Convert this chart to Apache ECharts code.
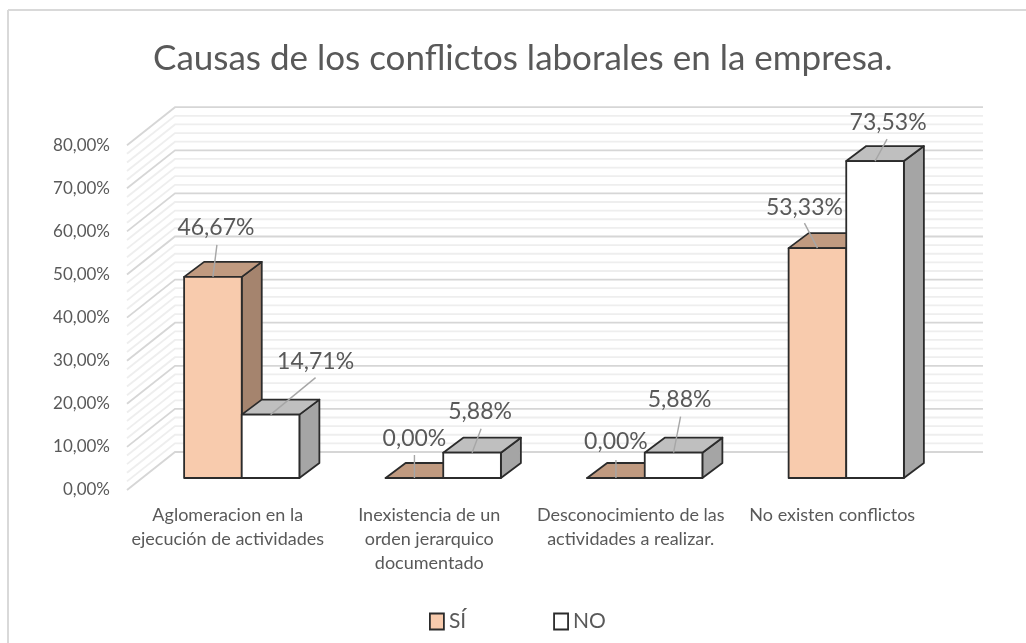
<!DOCTYPE html>
<html>
<head>
<meta charset="utf-8">
<style>html,body{margin:0;padding:0;background:#fff}#c{width:1026px;height:643px;filter:blur(0.5px)}</style>
<script src="https://cdn.jsdelivr.net/npm/echarts@6/dist/echarts.min.js"></script>
</head>
<body>
<div id="c"></div>
<script>
const categories = ['Aglomeracion en la\nejecución de actividades','Inexistencia de un\norden jerarquico\ndocumentado','Desconocimiento de las\nactividades a realizar.','No existen conflictos'];
const siValues = [46.67, 0, 0, 53.33];
const noValues = [14.71, 5.88, 5.88, 73.53];
const yTickValues = [0,2,4,6,8,10,12,14,16,18,20,22,24,26,28,30,32,34,36,38,40,42,44,46,48,50,52,54,56,58,60,62,64,66,68,70,72,74,76,78,80];

// 3D projection constants (pixels)
const FONT = 'Lato, "Open Sans", sans-serif';
const WALL_DX = 48, WALL_DY = -38, BAR_SHIFT_X = 14, BAR_SHIFT_Y = -12, BAR_DX = 20, BAR_DY = -15, BAR_FRAC = 0.286;
const EDGE = '#2b2b2b';
// label placement relative to the front-top centre of each bar: [labelDx, labelDy, leaderDx, leaderDy]
const siLabelNudge = [[3,-49,4,-32],[0,-39,0,-23],[0,-36,0,-18],[-13,-41,-13,-25]];
const noLabelNudge = [[45,-53,45,-37],[8,-41,9,-24],[6,-53,7,-36],[13,-39,12,-22]];

const fmt = v => v.toFixed(2).replace('.', ',') + '%';

function wallItem(params, api) {
  const v = api.value(1);
  const p = api.coord([0, v]);
  const cs = params.coordSys;
  const major = v % 10 === 0;
  return {
    type: 'polyline',
    shape: { points: [[cs.x, p[1]], [cs.x + WALL_DX, p[1] + WALL_DY], [cs.x + cs.width + WALL_DX + 2, p[1] + WALL_DY]] },
    style: { fill: null, stroke: major ? '#d6d6d6' : '#eeeeee', lineWidth: 1.8 },
    silent: true
  };
}

function barRenderer(sideIndex, front, top, side, nudges) {
  return function (params, api) {
    const c = api.value(0), v = api.value(1);
    const band = api.size([1, 0])[0];
    const w = band * BAR_FRAC;
    const t = api.coord([c, v]), b = api.coord([c, 0]);
    const cx = t[0] + BAR_SHIFT_X;
    const x0 = cx + (sideIndex === 0 ? -w : 0), x1 = x0 + w;
    const yt = t[1] + BAR_SHIFT_Y, yb = b[1] + BAR_SHIFT_Y;
    const n = nudges[params.dataIndex];
    const mx = (x0 + x1) / 2;
    const stroke = { stroke: EDGE, lineWidth: 1.8, lineJoin: 'round' };
    const children = [
      { type: 'polygon', shape: { points: [[x1, yt], [x1 + BAR_DX, yt + BAR_DY], [x1 + BAR_DX, yb + BAR_DY], [x1, yb]] }, style: Object.assign({ fill: side }, stroke) },
      { type: 'polygon', shape: { points: [[x0, yt], [x0 + BAR_DX, yt + BAR_DY], [x1 + BAR_DX, yt + BAR_DY], [x1, yt]] }, style: Object.assign({ fill: top }, stroke) },
      { type: 'rect', shape: { x: x0, y: yt, width: w, height: yb - yt }, style: Object.assign({ fill: front }, stroke) },
      { type: 'line', z2: 5, shape: { x1: mx, y1: yt, x2: mx + n[2], y2: yt + n[3] }, style: { stroke: '#a6a6a6', lineWidth: 1.4 } },
      { type: 'text', z2: 6, style: { x: mx + n[0], y: yt + n[1], text: fmt(v), fill: '#595959', font: '23px ' + FONT, align: 'center', verticalAlign: 'middle' } }
    ];
    return { type: 'group', children };
  };
}

const chart = echarts.init(document.getElementById('c'), null, { renderer: 'canvas' });
chart.setOption({
  animation: false,
  backgroundColor: '#ffffff',
  title: {
    text: 'Causas de los conflictos laborales en la empresa.',
    left: 148, top: 36,
    textStyle: { fontFamily: FONT, fontSize: 35, fontWeight: 'normal', color: '#595959' }
  },
  legend: {
    data: ['SÍ', 'NO'],
    left: 424, top: 606,
    itemWidth: 14, itemHeight: 16, itemGap: 87,
    icon: 'rect',
    textStyle: { fontFamily: FONT, fontSize: 21, color: '#595959' },
    itemStyle: { borderColor: EDGE, borderWidth: 1.8 }
  },
  grid: { left: 127, top: 145.2, width: 806, height: 344.8 },
  xAxis: {
    type: 'category',
    data: categories,
    axisLine: { show: false }, axisTick: { show: false }, splitLine: { show: false },
    axisLabel: { interval: 0, margin: 13, lineHeight: 24, fontFamily: FONT, fontSize: 18, color: '#595959', align: 'center', verticalAlign: 'top' }
  },
  yAxis: {
    type: 'value', min: 0, max: 80, interval: 10,
    axisLine: { show: false }, axisTick: { show: false }, splitLine: { show: false },
    axisLabel: { formatter: fmt, margin: 17, fontFamily: FONT, fontSize: 17, color: '#595959' }
  },
  graphic: [
    { type: 'line', shape: { x1: 8, y1: 10, x2: 1026, y2: 10 }, style: { stroke: '#d9d9d9', lineWidth: 2 }, silent: true },
    { type: 'line', shape: { x1: 8, y1: 10, x2: 8, y2: 643 }, style: { stroke: '#d9d9d9', lineWidth: 2 }, silent: true }
  ],
  series: [
    { name: 'wall', type: 'custom', silent: true, z: 1, renderItem: wallItem, data: yTickValues.map(v => [0, v]) },
    { name: 'SÍ', type: 'custom', z: 2, itemStyle: { color: '#f8cbad' }, renderItem: barRenderer(0, '#f8cbad', '#c09a80', '#a5846e', siLabelNudge), data: siValues.map((v, i) => [i, v]) },
    { name: 'NO', type: 'custom', z: 3, itemStyle: { color: '#ffffff' }, renderItem: barRenderer(1, '#ffffff', '#bfbfbf', '#a5a5a5', noLabelNudge), data: noValues.map((v, i) => [i, v]) }
  ]
});
</script>
</body>
</html>
